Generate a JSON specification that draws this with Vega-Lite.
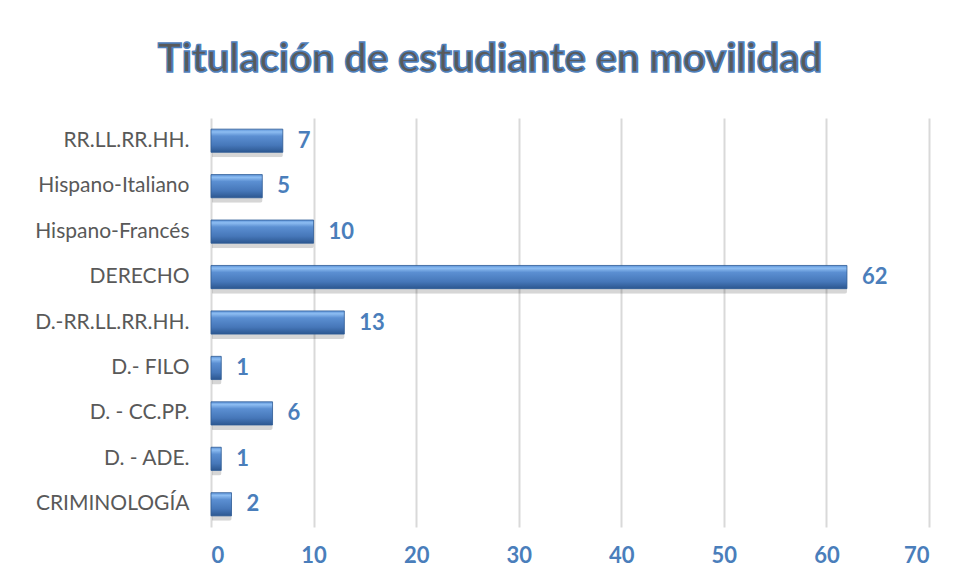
{
  "$schema": "https://vega.github.io/schema/vega-lite/v6.json",
  "width": 718,
  "height": 409,
  "autosize": {"type": "none"},
  "padding": {"left": 211, "top": 118, "right": 31, "bottom": 54},
  "background": "white",
  "title": {
    "text": "Titulación de estudiante en movilidad",
    "anchor": "middle",
    "frame": "group",
    "dx": -80,
    "offset": 38,
    "font": "Lato",
    "fontSize": 40,
    "fontWeight": "bold",
    "color": "#595959"
  },
  "config": {
    "view": {"stroke": null},
    "style": {"group-title": {"stroke": "#4F81BD", "strokeWidth": 1.6}}
  },
  "data": {
    "values": [
      {"titulacion": "RR.LL.RR.HH.", "n": 7},
      {"titulacion": "Hispano-Italiano", "n": 5},
      {"titulacion": "Hispano-Francés", "n": 10},
      {"titulacion": "DERECHO", "n": 62},
      {"titulacion": "D.-RR.LL.RR.HH.", "n": 13},
      {"titulacion": "D.- FILO", "n": 1},
      {"titulacion": "D. - CC.PP.", "n": 6},
      {"titulacion": "D. - ADE.", "n": 1},
      {"titulacion": "CRIMINOLOGÍA", "n": 2}
    ]
  },
  "encoding": {
    "y": {
      "field": "titulacion",
      "type": "nominal",
      "sort": null,
      "title": null,
      "scale": {"paddingInner": 0.49, "paddingOuter": 0.245},
      "axis": {
        "domain": false,
        "ticks": false,
        "labelPadding": 22,
        "labelFont": "Lato",
        "labelFontSize": 21,
        "labelColor": "#595959",
        "labelLimit": 250
      }
    },
    "x": {
      "field": "n",
      "type": "quantitative",
      "title": null,
      "scale": {"domain": [0, 70], "nice": false},
      "axis": {
        "values": [0, 10, 20, 30, 40, 50, 60, 70],
        "domain": false,
        "ticks": false,
        "grid": true,
        "gridColor": "#D9D9D9",
        "gridWidth": 2,
        "labelPadding": 18,
        "labelFont": "Lato",
        "labelFontSize": 22,
        "labelFontWeight": "bold",
        "labelColor": "#4A7EBB"
      }
    }
  },
  "layer": [
    {
      "mark": {"type": "bar", "color": "#000000", "opacity": 0.16, "xOffset": 1, "yOffset": 5, "cornerRadius": 2}
    },
    {
      "mark": {
        "type": "bar",
        "stroke": "#2E5C95",
        "strokeWidth": 0.8,
        "color": {
          "gradient": "linear",
          "x1": 0, "y1": 0, "x2": 0, "y2": 1,
          "stops": [
            {"offset": 0, "color": "#5C93D8"},
            {"offset": 0.12, "color": "#8DBDF2"},
            {"offset": 0.3, "color": "#5B8FD2"},
            {"offset": 0.7, "color": "#4677B9"},
            {"offset": 1, "color": "#2C5790"}
          ]
        }
      }
    },
    {
      "mark": {
        "type": "text",
        "align": "left",
        "baseline": "middle",
        "dx": 15,
        "font": "Lato",
        "fontSize": 22,
        "fontWeight": "bold",
        "color": "#4A7EBB"
      },
      "encoding": {"text": {"field": "n", "type": "quantitative"}}
    }
  ]
}
